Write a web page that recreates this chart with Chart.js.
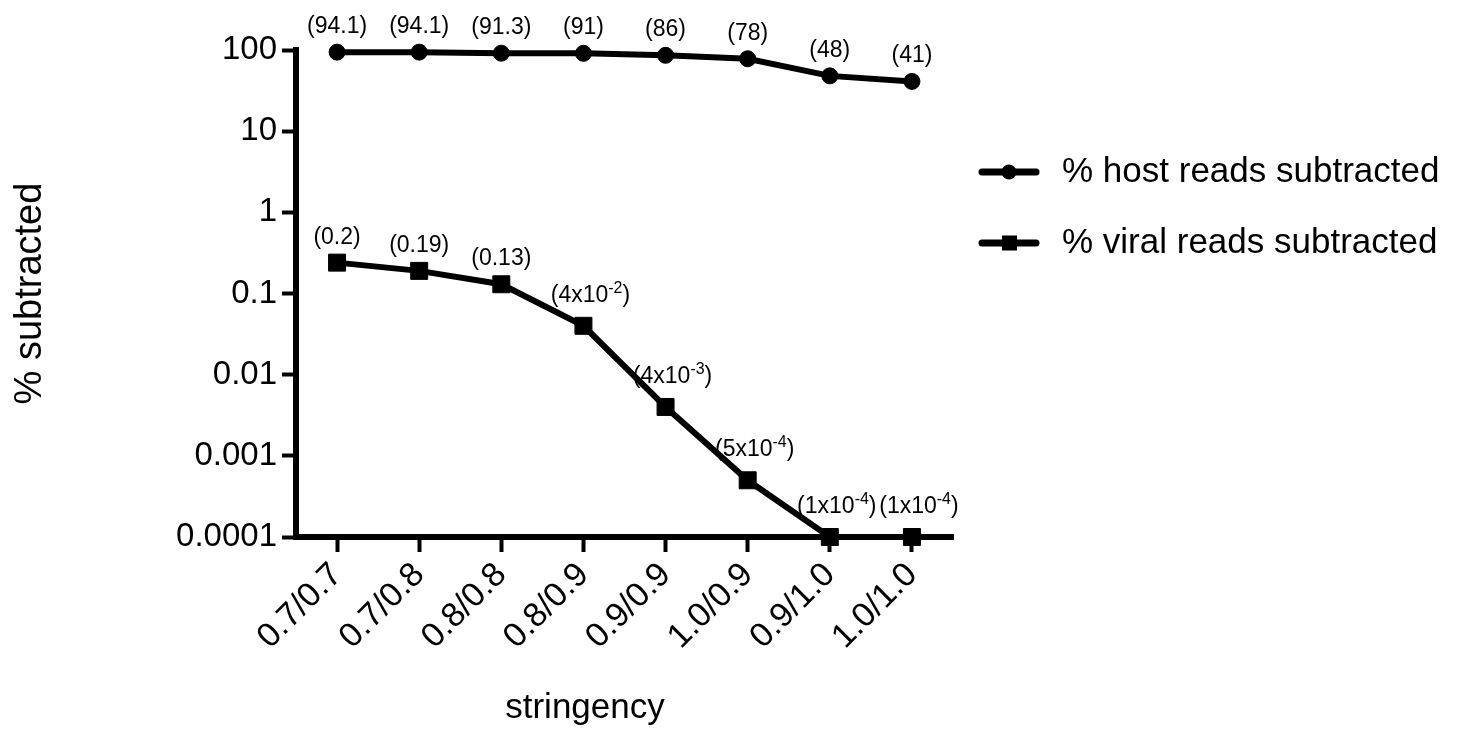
<!DOCTYPE html>
<html>
<head>
<meta charset="utf-8">
<script src="https://cdn.jsdelivr.net/npm/chart.js@4.4.1/dist/chart.umd.min.js"></script>
<style>
  html, body { margin: 0; padding: 0; background: #fff; }
  #wrap { width: 1459px; height: 736px; }
</style>
</head>
<body>
<div id="wrap"><canvas id="chart"></canvas></div>
<script>
// Data
const stringency = ['0.7/0.7', '0.7/0.8', '0.8/0.8', '0.8/0.9', '0.9/0.9', '1.0/0.9', '0.9/1.0', '1.0/1.0'];
const hostValues = [94.1, 94.1, 91.3, 91, 86, 78, 48, 41];
const viralValues = [0.24, 0.19, 0.13, 0.04, 0.004, 0.0005, 0.0001, 0.0001];
const hostLabels = ['94.1', '94.1', '91.3', '91', '86', '78', '48', '41'];
const viralLabels = ['0.2', '0.19', '0.13', '4x10^-2', '4x10^-3', '5x10^-4', '1x10^-4', '1x10^-4'];
const yTickValues = [0.0001, 0.001, 0.01, 0.1, 1, 10, 100];
const yTickLabels = ['0.0001', '0.001', '0.01', '0.1', '1', '10', '100'];
const seriesNames = ['% host reads subtracted', '% viral reads subtracted'];

const FONT = "'Liberation Sans', Arial, Helvetica, sans-serif";

// Draw "(base^exp)" with a raised exponent, centred on x
function drawValueLabel(ctx, text, x, y) {
  const parts = text.split('^');
  const big = '23px ' + FONT;
  const small = '16px ' + FONT;
  ctx.font = big;
  const head = '(' + parts[0];
  const wHead = ctx.measureText(head).width;
  const wTail = ctx.measureText(')').width;
  let wExp = 0;
  if (parts[1]) {
    ctx.font = small;
    wExp = ctx.measureText(parts[1]).width;
  }
  let cx = x - (wHead + wExp + wTail) / 2;
  ctx.textAlign = 'left';
  ctx.textBaseline = 'alphabetic';
  ctx.font = big;
  ctx.fillText(head, cx, y);
  cx += wHead;
  if (parts[1]) {
    ctx.font = small;
    ctx.fillText(parts[1], cx, y - 9);
    cx += wExp;
    ctx.font = big;
  }
  ctx.fillText(')', cx, y);
}

const labelPlugin = {
  id: 'valueLabels',
  afterDatasetsDraw(chart) {
    const ctx = chart.ctx;
    const sets = [hostLabels, viralLabels];
    ctx.save();
    ctx.fillStyle = '#000';
    sets.forEach((labels, di) => {
      chart.getDatasetMeta(di).data.forEach((pt, i) => {
        const txt = labels[i];
        const sup = txt.indexOf('^') >= 0;
        drawValueLabel(ctx, txt, pt.x + (sup ? 7 : 0), pt.y - (sup ? 24 : 19));
      });
    });
    ctx.restore();
  }
};

const legendPlugin = {
  id: 'sideLegend',
  afterDraw(chart) {
    const ctx = chart.ctx;
    const rows = [172, 243];
    ctx.save();
    rows.forEach((y, i) => {
      ctx.strokeStyle = '#000';
      ctx.fillStyle = '#000';
      ctx.lineWidth = 7;
      ctx.lineCap = 'round';
      ctx.beginPath();
      ctx.moveTo(982, y);
      ctx.lineTo(1036, y);
      ctx.stroke();
      if (i === 0) {
        ctx.beginPath();
        ctx.arc(1009, y, 7.5, 0, Math.PI * 2);
        ctx.fill();
      } else {
        ctx.fillRect(1002, y - 7.5, 15, 15);
      }
      ctx.font = '35px ' + FONT;
      ctx.textAlign = 'left';
      ctx.textBaseline = 'middle';
      ctx.fillText(seriesNames[i], 1062, y);
    });
    // x-axis title
    ctx.font = '35px ' + FONT;
    ctx.textAlign = 'center';
    ctx.textBaseline = 'middle';
    ctx.fillText('stringency', 585, 708);
    ctx.restore();
  }
};

new Chart(document.getElementById('chart'), {
  type: 'line',
  data: {
    labels: stringency,
    datasets: [
      {
        label: seriesNames[0],
        data: hostValues,
        borderColor: '#000',
        backgroundColor: '#000',
        borderWidth: 6,
        pointStyle: 'circle',
        pointRadius: 8,
        pointBorderWidth: 1,
        tension: 0,
        clip: false
      },
      {
        label: seriesNames[1],
        data: viralValues,
        borderColor: '#000',
        backgroundColor: '#000',
        borderWidth: 6,
        pointStyle: 'rect',
        pointRadius: 12,
        pointBorderWidth: 1,
        tension: 0,
        clip: false
      }
    ]
  },
  options: {
    responsive: true,
    maintainAspectRatio: false,
    animation: false,
    devicePixelRatio: 1,
    layout: { padding: { top: 50, right: 506, left: 0, bottom: 0 } },
    plugins: {
      legend: { display: false },
      tooltip: { enabled: false }
    },
    scales: {
      x: {
        type: 'category',
        offset: true,
        border: { display: true, color: '#000', width: 6 },
        grid: { drawOnChartArea: false, drawTicks: true, color: '#000', tickLength: 15, tickWidth: 4, offset: false },
        ticks: {
          color: '#000',
          font: { family: FONT, size: 34 },
          minRotation: 45,
          maxRotation: 45,
          padding: 3
        },
        afterFit(scale) { scale.height = 199; }
      },
      y: {
        type: 'logarithmic',
        min: 0.0001,
        max: 100,
        border: { display: true, color: '#000', width: 6 },
        grid: { drawOnChartArea: false, drawTicks: true, color: '#000', tickLength: 14, tickWidth: 4 },
        afterBuildTicks(scale) {
          scale.ticks = yTickValues.map(v => ({ value: v }));
        },
        ticks: {
          color: '#000',
          font: { family: FONT, size: 33 },
          padding: 5,
          callback: (v, i) => yTickLabels[i]
        },
        title: {
          display: true,
          text: '% subtracted',
          color: '#000',
          font: { family: FONT, size: 38 },
          padding: { top: 8, bottom: 0 }
        },
        afterFit(scale) { scale.width = 296; }
      }
    }
  },
  plugins: [labelPlugin, legendPlugin]
});
</script>
</body>
</html>
